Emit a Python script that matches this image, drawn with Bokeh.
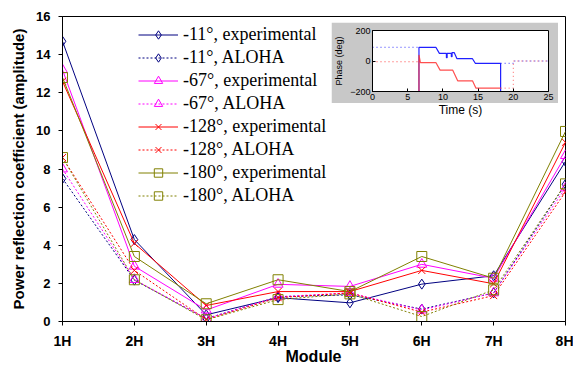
from bokeh.plotting import figure
from bokeh.models import (Range1d, FixedTicker, Legend, LegendItem, Label)
from bokeh.embed import file_html
from bokeh.resources import INLINE
from bokeh.core.properties import value

# ---------------- data ----------------
modules = ["1H", "2H", "3H", "4H", "5H", "6H", "7H", "8H"]
module_pos = [1, 2, 3, 4, 5, 6, 7, 8]

exp_11 = [14.7, 4.3, 0.35, 1.25, 0.98, 1.96, 2.4, 8.4]
aloha_11 = [7.5, 2.17, 0.15, 1.3, 1.4, 0.65, 1.5, 7.2]
exp_67 = [13.2, 2.9, 0.6, 1.95, 1.84, 3.0, 2.27, 8.7]
aloha_67 = [8.0, 2.2, 0.15, 1.3, 1.5, 0.6, 1.5, 7.0]
exp_128 = [12.6, 4.1, 0.84, 1.57, 1.57, 2.68, 1.98, 9.4]
aloha_128 = [8.6, 2.68, 0.1, 1.25, 1.5, 0.49, 1.36, 6.8]
exp_180 = [12.8, 3.41, 0.93, 2.19, 1.57, 3.41, 2.27, 9.97]
aloha_180 = [8.6, 2.19, 0.09, 1.15, 1.45, 0.26, 1.66, 7.22]

series_names = ["-11°, experimental", "-11°, ALOHA",
                "-67°, experimental", "-67°, ALOHA",
                "-128°, experimental", "-128°, ALOHA",
                "-180°, experimental", "-180°, ALOHA"]
series_values = [exp_11, aloha_11, exp_67, aloha_67,
                 exp_128, aloha_128, exp_180, aloha_180]
y_ticks = [0, 2, 4, 6, 8, 10, 12, 14, 16]
x_title = "Module"
y_title = "Power reflection coefficient (amplitude)"

# inset data (time in s, phase in deg)
inset_x_ticks = [0, 5, 10, 15, 20, 25]
inset_y_ticks = [-200, 0, 200]
blue_dot1_t = [0, 6.6]
blue_dot1_p = [90, 90]
blue_solid_t = [6.6, 6.6, 9.0, 9.5, 10.5, 10.5, 10.6, 10.6, 11.2, 11.2, 11.3, 11.3, 11.6, 12.0, 14.2, 14.6, 18.2, 18.2]
blue_solid_p = [-200, 90, 90, 50, 50, 22, 22, 50, 50, 28, 28, 55, 55, 15, 15, -15, -15, -200]
blue_dot2_t = [18.2, 20, 20, 25]
blue_dot2_p = [-15, -15, 0, 0]
red_dot1_t = [0, 6.6]
red_dot1_p = [-5, -5]
red_solid_t = [6.6, 6.6, 6.8, 9.0, 9.6, 11.4, 12.1, 14.2, 14.7, 18.2]
red_solid_p = [-200, 40, -10, -10, -60, -60, -130, -130, -178, -178]
red_dot2_t = [18.2, 20, 20, 25]
red_dot2_p = [-178, -178, 0, 0]

# ---------------- styles ----------------
colors = ["#000080", "#000080", "#FF00FF", "#FF00FF",
          "#FF0000", "#FF0000", "#808000", "#808000"]
markers = ["diamond", "diamond", "triangle", "triangle",
           "x", "x", "square", "square"]
dashes = ["solid", "2 2", "solid", "2 2", "solid", "2 2", "solid", "2 2"]
SANS = "Liberation Sans"
SERIF = "Liberation Serif"

p = figure(width=573, height=365, output_backend="svg", toolbar_location=None,
           x_range=Range1d(1, 8), y_range=Range1d(0, 16),
           min_border_left=62, min_border_right=8, min_border_top=16,
           min_border_bottom=44)
p.xgrid.visible = False
p.ygrid.visible = False
p.outline_line_color = "black"
p.outline_line_width = 1
p.background_fill_color = "white"
p.border_fill_color = "white"

p.xaxis.ticker = FixedTicker(ticks=module_pos)
p.xaxis.major_label_overrides = {pos: lab for pos, lab in zip(module_pos, modules)}
p.yaxis.ticker = FixedTicker(ticks=y_ticks)
for ax in (p.xaxis, p.yaxis):
    ax.axis_line_color = "black"
    ax.axis_line_width = 1
    ax.major_tick_line_color = "black"
    ax.major_tick_out = 4
    ax.major_tick_in = 0
    ax.minor_tick_line_color = None
    ax.major_label_text_font = SANS
    ax.major_label_text_font_style = "bold"
    ax.major_label_text_color = "black"
    ax.axis_label_text_font = SANS
    ax.axis_label_text_font_style = "bold"
    ax.axis_label_text_color = "black"
p.xaxis.major_label_text_font_size = "14px"
p.yaxis.major_label_text_font_size = "13px"
p.xaxis.major_label_standoff = 7
p.yaxis.major_label_standoff = 8
p.yaxis.axis_label = y_title
p.yaxis.axis_label_text_font_size = "15px"
p.yaxis.axis_label_standoff = 6

items = []
for name, vals, c, m, d in zip(series_names, series_values, colors, markers, dashes):
    r_line = p.line(module_pos, vals, line_color=c, line_width=1, line_dash=d)
    r_mark = p.scatter(module_pos, vals, marker=m, size=10, line_color=c,
                       line_width=1, fill_color=None)
    items.append(LegendItem(label=name, renderers=[r_line, r_mark]))

legend = Legend(items=items, location=(76, 115), orientation="vertical",
                glyph_width=40, glyph_height=21, label_height=21,
                label_standoff=5, spacing=2, padding=0, margin=0,
                border_line_color=None, background_fill_alpha=0,
                label_text_font=SERIF, label_text_font_size="18px",
                label_text_color="black")
p.add_layout(legend, "center")

p.add_layout(Label(x=398, y=212, x_units="screen", y_units="screen",
                   text="Time (s)", text_align="center", text_baseline="middle",
                   text_font=SANS, text_font_size="12px", text_color="black"))

# ---------------- x-axis title (small overlay so the frame keeps its size) ----
xt = figure(width=100, height=20, output_backend="svg", toolbar_location=None,
            x_range=Range1d(0, 1), y_range=Range1d(0, 1),
            x_axis_type=None, y_axis_type=None, min_border=0,
            styles={"position": "absolute", "left": "263px", "top": "346px"})
xt.xgrid.visible = False
xt.ygrid.visible = False
xt.outline_line_color = None
xt.background_fill_alpha = 0
xt.border_fill_alpha = 0
xt.text(x=[0.5], y=[0.5], text=[x_title], text_align="center",
        text_baseline="middle", text_font=value(SANS), text_font_style="bold",
        text_font_size="16px", text_color="black")

# ---------------- inset ----------------
ins = figure(width=227, height=81, output_backend="svg", toolbar_location=None,
             x_range=Range1d(0, 25), y_range=Range1d(-200, 200),
             min_border_left=38, min_border_right=10, min_border_top=8,
             min_border_bottom=12,
             styles={"position": "absolute", "left": "331px", "top": "22px"})
ins.xgrid.visible = False
ins.ygrid.visible = False
ins.outline_line_color = "black"
ins.background_fill_color = "white"
ins.border_fill_color = "#c8c8c8"
ins.xaxis.ticker = FixedTicker(ticks=inset_x_ticks)
ins.yaxis.ticker = FixedTicker(ticks=inset_y_ticks)
for ax in (ins.xaxis, ins.yaxis):
    ax.axis_line_color = "black"
    ax.major_tick_out = 0
    ax.major_tick_in = 3
    ax.minor_tick_line_color = None
    ax.major_label_text_font = SANS
    ax.major_label_text_font_size = "9px"
    ax.major_label_text_color = "black"
    ax.major_label_standoff = 2
ins.yaxis.axis_label = "Phase (deg)"
ins.yaxis.axis_label_text_font = SANS
ins.yaxis.axis_label_text_font_size = "9px"
ins.yaxis.axis_label_text_font_style = "normal"
ins.yaxis.axis_label_text_color = "black"
ins.yaxis.axis_label_standoff = 3

ins.line(blue_dot1_t, blue_dot1_p, line_color="#3030ff", line_dash="1 3", line_width=1)
ins.line(red_dot1_t, red_dot1_p, line_color="#ff4040", line_dash="1 3", line_width=1)
ins.line(blue_solid_t, blue_solid_p, line_color="#2020ff", line_width=1.2)
ins.line(red_solid_t, red_solid_p, line_color="#ff3030", line_width=1.2, line_alpha=0.85)
ins.line(blue_dot2_t, blue_dot2_p, line_color="#3030ff", line_dash="1 3", line_width=1)
ins.line(red_dot2_t, red_dot2_p, line_color="#ff6060", line_dash="1 3", line_width=1)

open("out.html", "w").write(file_html([p, ins, xt], INLINE))
